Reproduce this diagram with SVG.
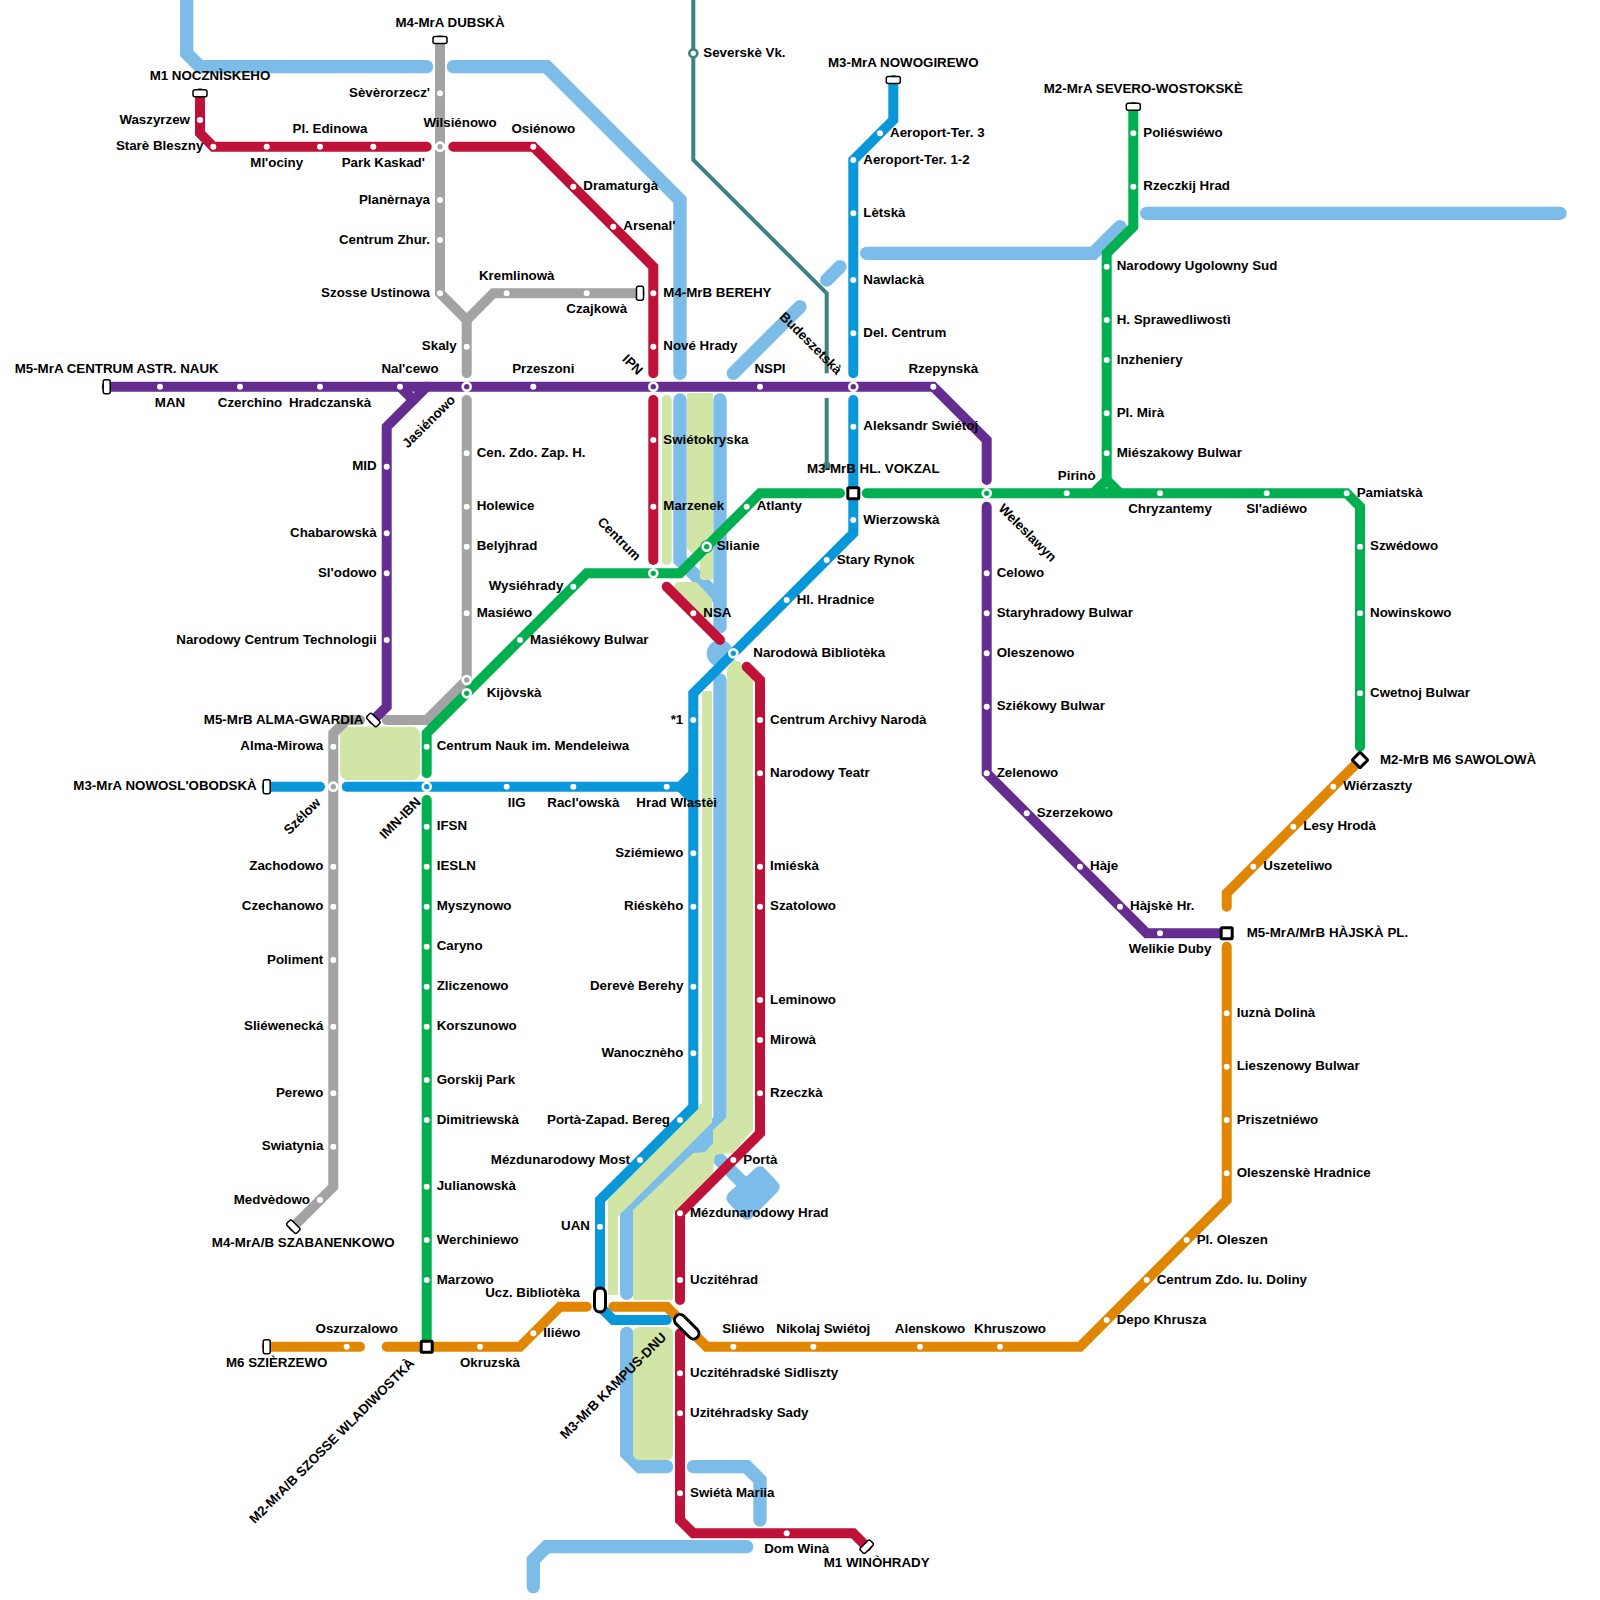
<svg xmlns="http://www.w3.org/2000/svg" width="1600" height="1600" viewBox="0 0 1600 1600">
<style>
text{font-family:"Liberation Sans",Arial,sans-serif;font-size:13.33px;font-weight:700;fill:#000}
.e{text-anchor:end}.m{text-anchor:middle}
.ln{fill:none;stroke-width:10;stroke-linecap:round;stroke-linejoin:miter}
.pu{stroke:#662d91}.re{stroke:#be1238}.gy{stroke:#a3a3a3}.gn{stroke:#00b050}.bl{stroke:#0897d8}.or{stroke:#e08600}
.te{fill:none;stroke:#3f8080;stroke-width:4}
.lb{fill:none;stroke:#7bbde8;stroke-width:13.33;stroke-linecap:round;stroke-linejoin:miter}
.pale{fill:#d0e5a6;stroke:#d0e5a6;stroke-linejoin:round}
.s{fill:#fff}
.x{stroke:#fff;stroke-width:2.67}
.fp{fill:#662d91}.fr{fill:#be1238}.fg{fill:#a3a3a3}.fn{fill:#00b050}.fb{fill:#0897d8}
.t{fill:#fff;stroke:#000;stroke-width:1.5}
.h{fill:#fff;stroke:#000;stroke-width:3}
</style>
<g id="river">
<path class="lb" d="M186.7 0V53.3L200 66.7H426.7"/>
<path class="lb" d="M453.3 66.7H546.7L680 200V373.3"/>
<path class="lb" d="M680 400V560L720 600"/>
<path class="lb" d="M720 400V626.7"/>
<circle cx="720" cy="653.3" r="13.3" fill="#7bbde8"/>
<path class="lb" d="M720 680V1120L626.7 1213.3V1293.3"/>
<path class="lb" d="M626.7 1333.3V1453.3L640 1466.7H666.7"/>
<path class="lb" d="M693.3 1466.7H746.7L760 1480V1520"/>
<path class="lb" d="M746.7 1546.7H546.7L533.3 1560V1586.7"/>
<path class="lb" d="M866.7 253.3H1093.3L1120 226.7"/>
<path class="lb" d="M1146.7 213.3H1560"/>
<path class="lb" d="M826.7 280L840 266.7"/>
<path class="lb" d="M733.3 373.3L800 306.7"/>
<path class="lb" d="M720 1160L746.7 1186.7"/>
<polygon points="760,1173 773,1187 747,1213 733,1198" fill="#7bbde8" stroke="#7bbde8" stroke-width="13.33" stroke-linejoin="round"/>
<polygon points="713,1120 720,1120 720,1125 713,1145 705,1153 692,1155 678,1150" fill="#7bbde8"/>
<path d="M666.7 400V560" fill="none" stroke="#d0e5a6" stroke-width="10" stroke-linecap="round"/>
<polygon class="pale" stroke-width="6" points="690,396 710,396 710,577 703,577 703,560 690,547"/>
<polygon class="pale" stroke-width="6" points="678,585 695,585 709,600 709,615 690,612 675,590"/>
<polygon class="pale" stroke-width="4" points="729,670 734,662 739,664 751,678 751,1129 732,1151 713,1153 711,1172 671,1212 671,1298 635,1298 635,1211 694,1155 706,1154 715,1144 715,1131 729,1118"/>
<polygon class="pale" stroke-width="2" points="703,692 711,692 711,1122 617,1216 617,1294 609,1294 609,1200 703,1103"/>
<rect x="340" y="726.7" width="80" height="53.3" rx="8" fill="#d0e5a6"/>
<rect x="633" y="1327" width="40" height="133" rx="6" fill="#d0e5a6"/>
</g>
<g id="connectors">
<path class="te" d="M693.3 0V160L826.7 293.3V373.3"/>
<path class="te" d="M826.7 398V466.7"/>
<circle cx="826.7" cy="466" r="4" fill="#3f8080"/>
<path class="ln gy" d="M440 40V293.3L466.7 320V373.3"/>
<path class="ln gy" d="M466.7 320L493.3 293.3H640"/>
<path class="ln gy" d="M466.7 400V680L426.7 720H386.7"/>
<path class="ln gy" d="M360 720H346.7L333.3 733.3V1186.7L293.3 1226.7"/>
<path class="ln re" d="M200 93.3V133.3L213.3 146.7H426.7"/>
<path class="ln re" d="M453.3 146.7H533.3L653.3 266.7V373.3"/>
<path class="ln re" d="M653.3 400V560"/>
<path class="ln re" d="M666.7 586.7L720 640"/>
<path class="ln re" d="M746.7 666.7L760 680V1133.3L680 1213.3V1300"/>
<path class="ln re" d="M680 1333.3V1520L693.3 1533.3H853.3L866.7 1546.7"/>
<path class="ln or" d="M266.7 1346.7H360"/>
<path class="ln or" d="M386.7 1346.7H520L560 1306.7H586.7"/>
<path class="ln or" d="M613.3 1306.7H666.7L706.7 1346.7H1080L1226.7 1200V946.7"/>
<path class="ln or" d="M1226.7 906.7V893.3L1360 760"/>
<path class="ln bl" d="M893.3 80V120L853.3 160V373.3"/>
<path class="ln bl" d="M853.3 400V533.3L693.3 693.3V1106.7L600 1200V1306.7L613.3 1320H666.7"/>
<path class="ln bl" d="M266.7 786.7H320"/>
<path class="ln bl" d="M346.7 786.7H693.3"/>
<path class="ln bl" d="M680 786.7L693.3 773.3M680 786.7L693.3 800"/>
<path class="ln gn" d="M1133.3 106.7V226.7L1106.7 253.3V480L1093.3 493.3"/>
<path class="ln gn" d="M1106.7 480L1120 493.3"/>
<path class="ln gn" d="M866.7 493.3H1346.7L1360 506.7V746.7"/>
<path class="ln gn" d="M840 493.3H760L680 573.3H586.7L426.7 733.3V773.3"/>
<path class="ln gn" d="M426.7 800V1346.7"/>
<path class="ln pu" d="M106.7 386.7H933.3L986.7 440V480"/>
<path class="ln pu" d="M986.7 506.7V773.3L1146.7 933.3H1226.7"/>
<path class="ln pu" d="M426.7 386.7L386.7 426.7V706.7L373.3 720"/>
<path class="ln pu" d="M400 386.7L413.3 400"/>
</g>
<g id="stations-m1">
<g id="m1-t1"><rect class="t" x="193" y="89.8" width="14" height="7" rx="2"/><text class="m" x="210" y="80">M1 NOCZNÌSKEHO</text></g>
<g id="m1-1"><circle class="s" cx="200" cy="120" r="3"/><text class="e" x="190" y="123.5">Waszyrzew</text></g>
<g id="m1-2"><circle class="s" cx="213.3" cy="146.7" r="3"/><text class="e" x="203.3" y="150.2">Starè Bleszny</text></g>
<g id="m1-3"><circle class="s" cx="266.7" cy="146.7" r="3"/><text class="m" x="276.7" y="166.7">Ml'ociny</text></g>
<g id="m1-4"><circle class="s" cx="320" cy="146.7" r="3"/><text class="m" x="330" y="133.3">Pl. Edinowa</text></g>
<g id="m1-5"><circle class="s" cx="373.3" cy="146.7" r="3"/><text class="m" x="383.3" y="166.7">Park Kaskad'</text></g>
<g id="m1-6"><circle class="s" cx="533.3" cy="146.7" r="3"/><text class="m" x="543.3" y="133.3">Osiénowo</text></g>
<g id="m1-7"><circle class="s" cx="573.3" cy="186.7" r="3"/><text x="583.3" y="190.2">Dramaturgà</text></g>
<g id="m1-8"><circle class="s" cx="613.3" cy="226.7" r="3"/><text x="623.3" y="230.2">Arsenal'</text></g>
<g id="m1-9"><circle class="s" cx="653.3" cy="293.3" r="3"/><text x="663.3" y="296.8">M4-MrB BEREHY</text></g>
<g id="m1-10"><circle class="s" cx="653.3" cy="346.7" r="3"/><text x="663.3" y="350.2">Nové Hrady</text></g>
<g id="m1-11"><circle class="s" cx="653.3" cy="440" r="3"/><text x="663.3" y="443.5">Swiétokryska</text></g>
<g id="m1-12"><circle class="s" cx="653.3" cy="506.7" r="3"/><text x="663.3" y="510.2">Marzenek</text></g>
<g id="m1-13"><circle class="s" cx="693.3" cy="613.3" r="3"/><text x="703.3" y="616.8">NSA</text></g>
<g id="m1-14"><circle class="s" cx="760" cy="720" r="3"/><text x="770" y="723.5">Centrum Archivy Narodà</text></g>
<g id="m1-15"><circle class="s" cx="760" cy="773.3" r="3"/><text x="770" y="776.8">Narodowy Teatr</text></g>
<g id="m1-16"><circle class="s" cx="760" cy="866.7" r="3"/><text x="770" y="870.2">Imiéskà</text></g>
<g id="m1-17"><circle class="s" cx="760" cy="906.7" r="3"/><text x="770" y="910.2">Szatolowo</text></g>
<g id="m1-18"><circle class="s" cx="760" cy="1000" r="3"/><text x="770" y="1003.5">Leminowo</text></g>
<g id="m1-19"><circle class="s" cx="760" cy="1040" r="3"/><text x="770" y="1043.5">Mirowà</text></g>
<g id="m1-20"><circle class="s" cx="760" cy="1093.3" r="3"/><text x="770" y="1096.8">Rzeczkà</text></g>
<g id="m1-21"><circle class="s" cx="733.3" cy="1160" r="3"/><text x="743.3" y="1163.5">Portà</text></g>
<g id="m1-22"><circle class="s" cx="680" cy="1213.3" r="3"/><text x="690" y="1216.8">Mézdunarodowy Hrad</text></g>
<g id="m1-23"><circle class="s" cx="680" cy="1280" r="3"/><text x="690" y="1283.5">Uczitéhrad</text></g>
<g id="m1-24"><circle class="s" cx="680" cy="1373.3" r="3"/><text x="690" y="1376.8">Uczitéhradské Sidliszty</text></g>
<g id="m1-25"><circle class="s" cx="680" cy="1413.3" r="3"/><text x="690" y="1416.8">Uzitéhradsky Sady</text></g>
<g id="m1-26"><circle class="s" cx="680" cy="1493.3" r="3"/><text x="690" y="1496.8">Swiétà Mariia</text></g>
<g id="m1-27"><circle class="s" cx="786.7" cy="1533.3" r="3"/><text class="m" x="796.7" y="1553.3">Dom Winà</text></g>
<g id="m1-t2"><rect class="t" x="859.7" y="1543.2" width="14" height="7" rx="2" transform="rotate(-45 866.7 1546.7)"/><text class="m" x="876.7" y="1566.7">M1 WINÒHRADY</text></g>
</g>
<g id="stations-m4">
<g id="m4-t1"><rect class="t" x="433" y="36.5" width="14" height="7" rx="2"/><text class="m" x="450" y="26.7">M4-MrA DUBSKÀ</text></g>
<g id="m4-1"><circle class="s" cx="440" cy="93.3" r="3"/><text class="e" x="430" y="96.8">Sèvèrorzecz'</text></g>
<g id="m4-2"><circle class="x fg" cx="440" cy="146.7" r="4"/><text class="m" x="460" y="126.7">Wilsiénowo</text></g>
<g id="m4-3"><circle class="s" cx="440" cy="200" r="3"/><text class="e" x="430" y="203.5">Planèrnaya</text></g>
<g id="m4-4"><circle class="s" cx="440" cy="240" r="3"/><text class="e" x="430" y="243.5">Centrum Zhur.</text></g>
<g id="m4-5"><circle class="s" cx="440" cy="293.3" r="3"/><text class="e" x="430" y="296.8">Szosse Ustinowa</text></g>
<g id="m4-6"><circle class="s" cx="506.7" cy="293.3" r="3"/><text class="m" x="516.7" y="280">Kremlinowà</text></g>
<g id="m4-7"><circle class="s" cx="586.7" cy="293.3" r="3"/><text class="m" x="596.7" y="313.3">Czajkowà</text></g>
<g id="m4-t2"><rect class="t" x="636.5" y="286.3" width="7" height="14" rx="2"/></g>
<g id="m4-8"><circle class="s" cx="466.7" cy="346.7" r="3"/><text class="e" x="456.7" y="350.2">Skaly</text></g>
<g id="m4-9"><circle class="s" cx="466.7" cy="453.3" r="3"/><text x="476.7" y="456.8">Cen. Zdo. Zap. H.</text></g>
<g id="m4-10"><circle class="s" cx="466.7" cy="506.7" r="3"/><text x="476.7" y="510.2">Holewice</text></g>
<g id="m4-11"><circle class="s" cx="466.7" cy="546.7" r="3"/><text x="476.7" y="550.2">Belyjhrad</text></g>
<g id="m4-12"><circle class="s" cx="466.7" cy="613.3" r="3"/><text x="476.7" y="616.8">Masiéwo</text></g>
<g id="m4-13"><circle class="x fg" cx="466.7" cy="680" r="4"/></g>
<g id="m4-14"><circle class="s" cx="333.3" cy="746.7" r="3"/><text class="e" x="323.3" y="750.2">Alma-Mirowa</text></g>
<g id="m4-15"><circle class="x fg" cx="333.3" cy="786.7" r="4"/><text class="m" transform="rotate(-45 302 816)" x="302" y="820.7">Szélow</text></g>
<g id="m4-16"><circle class="s" cx="333.3" cy="866.7" r="3"/><text class="e" x="323.3" y="870.2">Zachodowo</text></g>
<g id="m4-17"><circle class="s" cx="333.3" cy="906.7" r="3"/><text class="e" x="323.3" y="910.2">Czechanowo</text></g>
<g id="m4-18"><circle class="s" cx="333.3" cy="960" r="3"/><text class="e" x="323.3" y="963.5">Poliment</text></g>
<g id="m4-19"><circle class="s" cx="333.3" cy="1026.7" r="3"/><text class="e" x="323.3" y="1030.2">Sliéwenecká</text></g>
<g id="m4-20"><circle class="s" cx="333.3" cy="1093.3" r="3"/><text class="e" x="323.3" y="1096.8">Perewo</text></g>
<g id="m4-21"><circle class="s" cx="333.3" cy="1146.7" r="3"/><text class="e" x="323.3" y="1150.2">Swiatynia</text></g>
<g id="m4-22"><circle class="s" cx="320" cy="1200" r="3"/><text class="e" x="310" y="1203.5">Medvèdowo</text></g>
<g id="m4-t3"><rect class="t" x="286.3" y="1223.2" width="14" height="7" rx="2" transform="rotate(45 293.3 1226.7)"/><text class="m" x="303.3" y="1246.7">M4-MrA/B SZABANENKOWO</text></g>
</g>
<g id="stations-m5">
<g id="m5-t1"><rect class="t" x="103.2" y="379.7" width="7" height="14" rx="2"/><text class="m" x="116.7" y="373.3">M5-MrA CENTRUM ASTR. NAUK</text></g>
<g id="m5-1"><circle class="s" cx="160" cy="386.7" r="3"/><text class="m" x="170" y="406.7">MAN</text></g>
<g id="m5-2"><circle class="s" cx="240" cy="386.7" r="3"/><text class="m" x="250" y="406.7">Czerchino</text></g>
<g id="m5-3"><circle class="s" cx="320" cy="386.7" r="3"/><text class="m" x="330" y="406.7">Hradczanskà</text></g>
<g id="m5-4"><circle class="s" cx="400" cy="386.7" r="3"/><text class="m" x="410" y="373.3">Nal'cewo</text></g>
<g id="m5-5"><circle class="x fp" cx="466.7" cy="386.7" r="4"/></g>
<g id="m5-6"><circle class="s" cx="533.3" cy="386.7" r="3"/><text class="m" x="543.3" y="373.3">Przeszoni</text></g>
<g id="m5-7"><circle class="x fp" cx="653.3" cy="386.7" r="4"/><text class="m" transform="rotate(45 632.7 364.3)" x="632.7" y="369">IPN</text></g>
<g id="m5-8"><circle class="s" cx="760" cy="386.7" r="3"/><text class="m" x="770" y="373.3">NSPI</text></g>
<g id="m5-9"><circle class="x fp" cx="853.3" cy="386.7" r="4"/><text class="m" transform="rotate(45 811 343)" x="811" y="347.7">Budeszetskà</text></g>
<g id="m5-10"><circle class="s" cx="933.3" cy="386.7" r="3"/><text class="m" x="943.3" y="373.3">Rzepynskà</text></g>
<g id="m5-11"><text class="m" transform="rotate(-45 428.6 421.4)" x="428.6" y="426.1">Jasiénowo</text></g>
<g id="m5-12"><circle class="s" cx="386.7" cy="466.7" r="3"/><text class="e" x="376.7" y="470.2">MID</text></g>
<g id="m5-13"><circle class="s" cx="386.7" cy="533.3" r="3"/><text class="e" x="376.7" y="536.8">Chabarowskà</text></g>
<g id="m5-14"><circle class="s" cx="386.7" cy="573.3" r="3"/><text class="e" x="376.7" y="576.8">Sl'odowo</text></g>
<g id="m5-15"><circle class="s" cx="386.7" cy="640" r="3"/><text class="e" x="376.7" y="643.5">Narodowy Centrum Technologii</text></g>
<g id="m5-t2"><rect class="t" x="366.3" y="716.5" width="14" height="7" rx="2" transform="rotate(45 373.3 720)"/><text class="e" x="363.3" y="723.5">M5-MrB ALMA-GWARDIA</text></g>
<g id="m5-16"><circle class="s" cx="986.7" cy="573.3" r="3"/><text x="996.7" y="576.8">Celowo</text></g>
<g id="m5-17"><circle class="s" cx="986.7" cy="613.3" r="3"/><text x="996.7" y="616.8">Staryhradowy Bulwar</text></g>
<g id="m5-18"><circle class="s" cx="986.7" cy="653.3" r="3"/><text x="996.7" y="656.8">Oleszenowo</text></g>
<g id="m5-19"><circle class="s" cx="986.7" cy="706.7" r="3"/><text x="996.7" y="710.2">Sziékowy Bulwar</text></g>
<g id="m5-20"><circle class="s" cx="986.7" cy="773.3" r="3"/><text x="996.7" y="776.8">Zelenowo</text></g>
<g id="m5-21"><circle class="s" cx="1026.7" cy="813.3" r="3"/><text x="1036.7" y="816.8">Szerzekowo</text></g>
<g id="m5-22"><circle class="s" cx="1080" cy="866.7" r="3"/><text x="1090" y="870.2">Hàje</text></g>
<g id="m5-23"><circle class="s" cx="1120" cy="906.7" r="3"/><text x="1130" y="910.2">Hàjskè Hr.</text></g>
<g id="m5-24"><circle class="s" cx="1160" cy="933.3" r="3"/><text class="m" x="1170" y="953.3">Welikie Duby</text></g>
</g>
<g id="stations-m3">
<g id="m3-t1"><rect class="t" x="886.3" y="76.5" width="14" height="7" rx="2"/><text class="m" x="903.3" y="66.7">M3-MrA NOWOGIREWO</text></g>
<g id="m3-1"><circle class="s" cx="880" cy="133.3" r="3"/><text x="890" y="136.8">Aeroport-Ter. 3</text></g>
<g id="m3-2"><circle class="s" cx="853.3" cy="160" r="3"/><text x="863.3" y="163.5">Aeroport-Ter. 1-2</text></g>
<g id="m3-3"><circle class="s" cx="853.3" cy="213.3" r="3"/><text x="863.3" y="216.8">Lètskà</text></g>
<g id="m3-4"><circle class="s" cx="853.3" cy="280" r="3"/><text x="863.3" y="283.5">Nawlackà</text></g>
<g id="m3-5"><circle class="s" cx="853.3" cy="333.3" r="3"/><text x="863.3" y="336.8">Del. Centrum</text></g>
<g id="m3-6"><circle class="s" cx="853.3" cy="426.7" r="3"/><text x="863.3" y="430.2">Aleksandr Swiétoj</text></g>
<g id="m3-7"><circle class="s" cx="853.3" cy="520" r="3"/><text x="863.3" y="523.5">Wierzowskà</text></g>
<g id="m3-8"><circle class="s" cx="826.7" cy="560" r="3"/><text x="836.7" y="563.5">Stary Rynok</text></g>
<g id="m3-9"><circle class="s" cx="786.7" cy="600" r="3"/><text x="796.7" y="603.5">Hl. Hradnice</text></g>
<g id="m3-10"><circle class="x fb" cx="733.3" cy="653.3" r="4"/><text x="753.3" y="656.8">Narodowà Bibliotèka</text></g>
<g id="m3-11"><circle class="s" cx="693.3" cy="720" r="3"/><text class="e" x="683.3" y="723.5">*1</text></g>
<g id="m3-12"><circle class="s" cx="693.3" cy="853.3" r="3"/><text class="e" x="683.3" y="856.8">Sziémiewo</text></g>
<g id="m3-13"><circle class="s" cx="693.3" cy="906.7" r="3"/><text class="e" x="683.3" y="910.2">Riéskèho</text></g>
<g id="m3-14"><circle class="s" cx="693.3" cy="986.7" r="3"/><text class="e" x="683.3" y="990.2">Derevè Berehy</text></g>
<g id="m3-15"><circle class="s" cx="693.3" cy="1053.3" r="3"/><text class="e" x="683.3" y="1056.8">Wanocznèho</text></g>
<g id="m3-16"><circle class="s" cx="680" cy="1120" r="3"/><text class="e" x="670" y="1123.5">Portà-Zapad. Bereg</text></g>
<g id="m3-17"><circle class="s" cx="640" cy="1160" r="3"/><text class="e" x="630" y="1163.5">Mézdunarodowy Most</text></g>
<g id="m3-18"><circle class="s" cx="600" cy="1226.7" r="3"/><text class="e" x="590" y="1230.2">UAN</text></g>
<g id="m3-19"><rect class="h" x="594.5" y="1288" width="11" height="24" rx="5.5"/><text class="e" x="580" y="1296.7">Ucz. Bibliotèka</text></g>
<g id="m3-20"><rect class="h" x="671.7" y="1321.2" width="30" height="11" rx="5.5" transform="rotate(45 686.7 1326.7)"/><text class="m" transform="rotate(-45 613 1385.7)" x="613" y="1390.4">M3-MrB KAMPUS-DNU</text></g>
<g id="m3-t2"><rect class="t" x="263.2" y="779.7" width="7" height="14" rx="2"/><text class="e" x="256.7" y="790.2">M3-MrA NOWOSL'OBODSKÀ</text></g>
<g id="m3-21"><circle class="s" cx="506.7" cy="786.7" r="3"/><text class="m" x="516.7" y="806.7">IIG</text></g>
<g id="m3-22"><circle class="s" cx="573.3" cy="786.7" r="3"/><text class="m" x="583.3" y="806.7">Racl'owskà</text></g>
<g id="m3-23"><circle class="s" cx="666.7" cy="786.7" r="3"/><text class="m" x="676.7" y="806.7">Hrad Wlastèi</text></g>
</g>
<g id="stations-m2">
<g id="m2-t1"><rect class="t" x="1126.3" y="103.2" width="14" height="7" rx="2"/><text class="m" x="1143.3" y="93.3">M2-MrA SEVERO-WOSTOKSKÈ</text></g>
<g id="m2-1"><circle class="s" cx="1133.3" cy="133.3" r="3"/><text x="1143.3" y="136.8">Poliéswiéwo</text></g>
<g id="m2-2"><circle class="s" cx="1133.3" cy="186.7" r="3"/><text x="1143.3" y="190.2">Rzeczkij Hrad</text></g>
<g id="m2-3"><circle class="s" cx="1106.7" cy="266.7" r="3"/><text x="1116.7" y="270.2">Narodowy Ugolowny Sud</text></g>
<g id="m2-4"><circle class="s" cx="1106.7" cy="320" r="3"/><text x="1116.7" y="323.5">H. Sprawedliwostì</text></g>
<g id="m2-5"><circle class="s" cx="1106.7" cy="360" r="3"/><text x="1116.7" y="363.5">Inzheniery</text></g>
<g id="m2-6"><circle class="s" cx="1106.7" cy="413.3" r="3"/><text x="1116.7" y="416.8">Pl. Mirà</text></g>
<g id="m2-7"><circle class="s" cx="1106.7" cy="453.3" r="3"/><text x="1116.7" y="456.8">Miészakowy Bulwar</text></g>
<g id="m2-8"><circle class="s" cx="1066.7" cy="493.3" r="3"/><text class="m" x="1076.7" y="480">Pirinò</text></g>
<g id="m2-9"><circle class="s" cx="1160" cy="493.3" r="3"/><text class="m" x="1170" y="513.3">Chryzantemy</text></g>
<g id="m2-10"><circle class="s" cx="1266.7" cy="493.3" r="3"/><text class="m" x="1276.7" y="513.3">Sl'adiéwo</text></g>
<g id="m2-11"><circle class="s" cx="1346.7" cy="493.3" r="3"/><text x="1356.7" y="496.8">Pamiatskà</text></g>
<g id="m2-12"><circle class="s" cx="1360" cy="546.7" r="3"/><text x="1370" y="550.2">Szwédowo</text></g>
<g id="m2-13"><circle class="s" cx="1360" cy="613.3" r="3"/><text x="1370" y="616.8">Nowinskowo</text></g>
<g id="m2-14"><circle class="s" cx="1360" cy="693.3" r="3"/><text x="1370" y="696.8">Cwetnoj Bulwar</text></g>
<g id="m2-15"><rect class="h" x="1354.5" y="754.5" width="11" height="11" rx="1" transform="rotate(45 1360 760)"/><text x="1380" y="763.5">M2-MrB M6 SAWOLOWÀ</text></g>
<g id="m2-16"><circle class="x fn" cx="986.7" cy="493.3" r="4"/><text class="m" transform="rotate(45 1027.6 532.6)" x="1027.6" y="537.3">Weleslawyn</text></g>
<g id="m2-17"><rect class="h" x="847.8" y="487.8" width="11" height="11" rx="1"/><text class="m" x="873.3" y="473.3">M3-MrB HL. VOKZAL</text></g>
<g id="m2-18"><circle class="s" cx="746.7" cy="506.7" r="3"/><text x="756.7" y="510.2">Atlanty</text></g>
<g id="m2-19"><circle cx="706.7" cy="546.7" r="6.5" fill="#00b050"/><circle class="x fn" cx="706.7" cy="546.7" r="4"/><text x="716.7" y="550.2">Slianie</text></g>
<g id="m2-20"><circle class="x fn" cx="653.3" cy="573.3" r="4"/><text class="m" transform="rotate(45 619.4 538.8)" x="619.4" y="543.5">Centrum</text></g>
<g id="m2-21"><circle class="s" cx="573.3" cy="586.7" r="3"/><text class="e" x="563.3" y="590.2">Wysiéhrady</text></g>
<g id="m2-22"><circle class="s" cx="520" cy="640" r="3"/><text x="530" y="643.5">Masiékowy Bulwar</text></g>
<g id="m2-23"><circle class="x fn" cx="466.7" cy="693.3" r="4"/><text x="486.7" y="696.8">Kijòvskà</text></g>
<g id="m2-24"><circle class="s" cx="426.7" cy="746.7" r="3"/><text x="436.7" y="750.2">Centrum Nauk im. Mendeleiwa</text></g>
<g id="m2-25"><circle class="x fb" cx="426.7" cy="786.7" r="4"/><text class="m" transform="rotate(-45 400 818)" x="400" y="822.7">IMN-IBN</text></g>
<g id="m2-26"><circle class="s" cx="426.7" cy="826.7" r="3"/><text x="436.7" y="830.2">IFSN</text></g>
<g id="m2-27"><circle class="s" cx="426.7" cy="866.7" r="3"/><text x="436.7" y="870.2">IESLN</text></g>
<g id="m2-28"><circle class="s" cx="426.7" cy="906.7" r="3"/><text x="436.7" y="910.2">Myszynowo</text></g>
<g id="m2-29"><circle class="s" cx="426.7" cy="946.7" r="3"/><text x="436.7" y="950.2">Caryno</text></g>
<g id="m2-30"><circle class="s" cx="426.7" cy="986.7" r="3"/><text x="436.7" y="990.2">Zliczenowo</text></g>
<g id="m2-31"><circle class="s" cx="426.7" cy="1026.7" r="3"/><text x="436.7" y="1030.2">Korszunowo</text></g>
<g id="m2-32"><circle class="s" cx="426.7" cy="1080" r="3"/><text x="436.7" y="1083.5">Gorskij Park</text></g>
<g id="m2-33"><circle class="s" cx="426.7" cy="1120" r="3"/><text x="436.7" y="1123.5">Dimitriewskà</text></g>
<g id="m2-34"><circle class="s" cx="426.7" cy="1186.7" r="3"/><text x="436.7" y="1190.2">Julianowskà</text></g>
<g id="m2-35"><circle class="s" cx="426.7" cy="1240" r="3"/><text x="436.7" y="1243.5">Werchiniewo</text></g>
<g id="m2-36"><circle class="s" cx="426.7" cy="1280" r="3"/><text x="436.7" y="1283.5">Marzowo</text></g>
<g id="m2-37"><rect class="h" x="421.2" y="1341.2" width="11" height="11" rx="1"/><text class="m" transform="rotate(-45 331.6 1440.8)" x="331.6" y="1445.5">M2-MrA/B SZOSSE WLADIWOSTKÀ</text></g>
</g>
<g id="stations-m6">
<g id="m6-t1"><rect class="t" x="263.2" y="1339.7" width="7" height="14" rx="2"/><text class="m" x="276.7" y="1366.7">M6 SZIÈRZEWO</text></g>
<g id="m6-1"><circle class="s" cx="346.7" cy="1346.7" r="3"/><text class="m" x="356.7" y="1333.3">Oszurzalowo</text></g>
<g id="m6-2"><circle class="s" cx="480" cy="1346.7" r="3"/><text class="m" x="490" y="1366.7">Okruzskà</text></g>
<g id="m6-3"><circle class="s" cx="533.3" cy="1333.3" r="3"/><text x="543.3" y="1336.8">Iliéwo</text></g>
<g id="m6-4"><circle class="s" cx="733.3" cy="1346.7" r="3"/><text class="m" x="743.3" y="1333.3">Sliéwo</text></g>
<g id="m6-5"><circle class="s" cx="813.3" cy="1346.7" r="3"/><text class="m" x="823.3" y="1333.3">Nikolaj Swiétoj</text></g>
<g id="m6-6"><circle class="s" cx="920" cy="1346.7" r="3"/><text class="m" x="930" y="1333.3">Alenskowo</text></g>
<g id="m6-7"><circle class="s" cx="1000" cy="1346.7" r="3"/><text class="m" x="1010" y="1333.3">Khruszowo</text></g>
<g id="m6-8"><circle class="s" cx="1106.7" cy="1320" r="3"/><text x="1116.7" y="1323.5">Depo Khrusza</text></g>
<g id="m6-9"><circle class="s" cx="1146.7" cy="1280" r="3"/><text x="1156.7" y="1283.5">Centrum Zdo. Iu. Doliny</text></g>
<g id="m6-10"><circle class="s" cx="1186.7" cy="1240" r="3"/><text x="1196.7" y="1243.5">Pl. Oleszen</text></g>
<g id="m6-11"><circle class="s" cx="1226.7" cy="1173.3" r="3"/><text x="1236.7" y="1176.8">Oleszenskè Hradnice</text></g>
<g id="m6-12"><circle class="s" cx="1226.7" cy="1120" r="3"/><text x="1236.7" y="1123.5">Priszetniéwo</text></g>
<g id="m6-13"><circle class="s" cx="1226.7" cy="1066.7" r="3"/><text x="1236.7" y="1070.2">Lieszenowy Bulwar</text></g>
<g id="m6-14"><circle class="s" cx="1226.7" cy="1013.3" r="3"/><text x="1236.7" y="1016.8">Iuznà Dolinà</text></g>
<g id="m6-15"><rect class="h" x="1221.2" y="927.8" width="11" height="11" rx="1"/><text x="1246.7" y="936.8">M5-MrA/MrB HÀJSKÀ PL.</text></g>
<g id="m6-16"><circle class="s" cx="1253.3" cy="866.7" r="3"/><text x="1263.3" y="870.2">Uszeteliwo</text></g>
<g id="m6-17"><circle class="s" cx="1293.3" cy="826.7" r="3"/><text x="1303.3" y="830.2">Lesy Hrodà</text></g>
<g id="m6-18"><circle class="s" cx="1333.3" cy="786.7" r="3"/><text x="1343.3" y="790.2">Wiérzaszty</text></g>
</g>
<g id="teal-station"><circle cx="693.3" cy="53.3" r="4" fill="#fff" stroke="#3f8080" stroke-width="2.67"/><text x="703.3" y="56.8">Severskè Vk.</text></g>
</svg>
